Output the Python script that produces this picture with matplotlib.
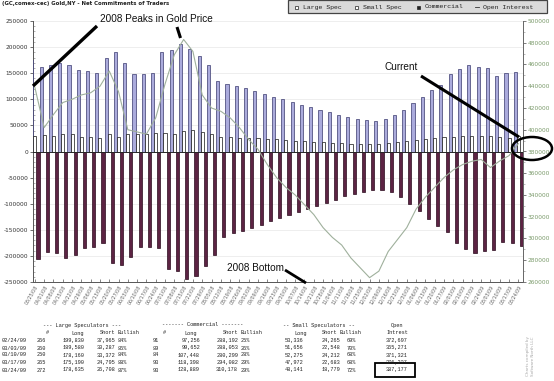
import matplotlib
matplotlib.use("Agg")
import matplotlib.pyplot as plt
import numpy as np
from matplotlib.patches import Rectangle, Ellipse
from matplotlib.lines import Line2D
from matplotlib.ticker import MultipleLocator, FormatStrFormatter

# ---------------- data ----------------
dates = ["03/25/08", "04/01/08", "04/08/08", "04/15/08", "04/22/08", "04/29/08",
         "05/06/08", "05/13/08", "05/20/08", "05/27/08", "06/03/08", "06/10/08",
         "06/17/08", "06/24/08", "07/01/08", "07/08/08", "07/15/08", "07/22/08",
         "07/29/08", "08/05/08", "08/12/08", "08/19/08", "08/26/08", "09/02/08",
         "09/09/08", "09/16/08", "09/23/08", "09/30/08", "10/07/08", "10/14/08",
         "10/21/08", "10/28/08", "11/04/08", "11/11/08", "11/18/08", "11/25/08",
         "12/02/08", "12/09/08", "12/16/08", "12/23/08", "12/30/08", "01/06/09",
         "01/13/09", "01/20/09", "01/27/09", "02/03/09", "02/10/09", "02/17/09",
         "02/24/09", "03/03/09", "03/10/09", "03/17/09", "03/24/09"]

large_spec = [176000, 161000, 165000, 170000, 166000, 157000, 155000, 151000, 180000,
              190000, 169000, 149000, 149000, 150000, 190000, 195000, 205000, 197000,
              182000, 165000, 135000, 130000, 126000, 122000, 116000, 110000, 105000,
              100000, 95000, 90000, 85000, 80000, 75000, 70000, 66000, 62000, 60000,
              58000, 62000, 70000, 80000, 92000, 105000, 118000, 128000, 148000, 158000,
              165000, 161865, 159293, 144788, 150395, 151927]

small_spec = [30000, 32000, 29000, 34000, 33000, 27000, 27000, 25000, 34000, 27000,
              33000, 33000, 33000, 35000, 35000, 34000, 40000, 42000, 38000, 33000,
              28000, 27000, 26000, 25000, 25000, 24000, 23000, 22000, 21000, 20000,
              19000, 18000, 17000, 16000, 15000, 15000, 14000, 15000, 16000, 18000,
              20000, 22000, 24000, 25000, 27000, 28000, 29000, 30000, 29071, 29108,
              28063, 25289, 29362]

commercial = [-206000, -193000, -194000, -204000, -199000, -184000, -182000, -176000,
              -214000, -217000, -202000, -182000, -182000, -185000, -225000, -229000,
              -245000, -239000, -220000, -198000, -163000, -157000, -152000, -147000,
              -141000, -134000, -128000, -122000, -116000, -110000, -104000, -98000,
              -92000, -86000, -81000, -77000, -74000, -73000, -78000, -88000, -100000,
              -114000, -129000, -143000, -155000, -176000, -187000, -195000, -190936,
              -188401, -172851, -175684, -181289]

open_interest = [439000, 402000, 414000, 425000, 428000, 432000, 434000, 440000, 454000,
                 435000, 400000, 398000, 396000, 411000, 442000, 469000, 483000, 472000,
                 432000, 420000, 417000, 411000, 402000, 391000, 382000, 368000, 356000,
                 347000, 340000, 331000, 322000, 310000, 301000, 294000, 282000, 273000,
                 264000, 270000, 288000, 299000, 310000, 327000, 338000, 347000, 356000,
                 363000, 368000, 371000, 372697, 365271, 371321, 376237, 387177]

# table values
tbl_dates = ["02/24/09", "03/03/09", "03/10/09", "03/17/09", "03/24/09"]
ls_num = ["266", "260", "250", "265", "272"]
ls_long = ["199,830", "189,580", "178,160", "175,190", "178,635"]
ls_short = ["37,965", "30,287", "33,372", "24,795", "26,708"]
ls_bull = ["84%", "86%", "84%", "88%", "87%"]
cm_num = ["91", "89", "84", "93", "93"]
cm_long = ["97,256", "99,652", "107,448", "118,398", "128,889"]
cm_short = ["288,192", "288,053", "280,299", "294,082", "310,178"]
cm_bull = ["25%", "26%", "28%", "29%", "29%"]
ss_long = ["53,336", "51,656", "52,275", "47,972", "48,141"]
ss_short = ["24,265", "22,548", "24,212", "22,683", "18,779"]
ss_bull = ["69%", "70%", "68%", "68%", "72%"]
oi_tbl = ["372,697", "365,271", "371,321", "376,237", "387,177"]

# ---------------- figure ----------------
W, H, DPI = 554, 381, 100
fig = plt.figure(figsize=(W / DPI, H / DPI), dpi=DPI)
fig.patch.set_facecolor("white")


def fx(x):
    return x / W


def fy(y):
    return 1 - y / H


L, R, T, B = 33, 523, 21, 282
ax = fig.add_axes([fx(L), fy(B), (R - L) / W, (B - T) / H])
ax2 = ax.twinx()

n = len(dates)
x = np.arange(n)
bw = 1 / 3
LAV, LAV_E = "#ababdc", "#3a3a6e"
MAR, MAR_E = "#5c2343", "#2a0a1c"

ax.bar(x, large_spec, width=bw, align="edge", color=LAV, edgecolor=LAV_E, linewidth=0.5, zorder=3)
ax.bar(x + bw, small_spec, width=bw, align="edge", color="white", edgecolor="#111111", linewidth=0.5, zorder=3)
ax.bar(x + 2 * bw, commercial, width=bw, align="edge", color=MAR, edgecolor=MAR_E, linewidth=0.5, zorder=3)
ax.axhline(0, color="#222222", lw=0.6, zorder=4)

ax.set_xlim(0.3, n)
ax.set_ylim(-250000, 250000)
ax.set_yticks(np.arange(-250000, 250001, 50000))
ax.yaxis.set_major_formatter(FormatStrFormatter("%d"))
ax.yaxis.set_minor_locator(MultipleLocator(10000))
ax.yaxis.grid(True, which="major", color="#ebebeb", lw=0.6)
ax.set_axisbelow(True)
ax.tick_params(axis="y", which="major", direction="out", length=2.2, width=0.6,
               color="#555555", labelsize=4.2, labelcolor="#333333", pad=1.2)
ax.tick_params(axis="y", which="minor", direction="in", length=1.5, width=0.4, color="#777777")

ax.set_xticks(x + 0.5)
ax.set_xticklabels(dates, rotation=60, ha="right", rotation_mode="anchor",
                   fontsize=3.4, color="#666666")
ax.tick_params(axis="x", direction="in", length=2.5, width=0.5, color="#555555", pad=1.5)

for s in ["top", "right"]:
    ax.spines[s].set_visible(False)
for s in ["left", "bottom"]:
    ax.spines[s].set_color("#555555")
    ax.spines[s].set_linewidth(0.7)

ax2.plot(x + 0.5, open_interest, color="#9fb09c", lw=0.8, zorder=5)
ax2.set_ylim(260000, 500000)
ax2.set_yticks(np.arange(260000, 500001, 20000))
ax2.yaxis.set_major_formatter(FormatStrFormatter("%d"))
ax2.yaxis.set_minor_locator(MultipleLocator(10000))
ax2.tick_params(axis="y", which="major", direction="out", length=2.2, width=0.6,
                color="#666666", labelsize=4.2, labelcolor="#7a9a6a", pad=1.0)
ax2.tick_params(axis="y", which="minor", direction="out", length=1.2, width=0.4, color="#888888")
for s in ["top", "left", "bottom"]:
    ax2.spines[s].set_visible(False)
ax2.spines["right"].set_color("#666666")
ax2.spines["right"].set_linewidth(0.7)
ax2.patch.set_visible(False)

renderer = fig.canvas.get_renderer()


def fit(t, width_px):
    w = t.get_window_extent(renderer=renderer).width
    if w > 0:
        t.set_fontsize(t.get_fontsize() * width_px / w)
    return t.get_fontsize()


# title
t = fig.text(fx(2), fy(4), "(GC,comex-cec) Gold,NY - Net Commitments of Traders",
             fontsize=4.5, weight="bold", color="#222222", va="center", ha="left",
             family="DejaVu Sans")
fit(t, 165)

# legend box
fig.add_artist(Rectangle((fx(288), fy(13)), 259 / W, 13 / H, transform=fig.transFigure,
                         facecolor="#dadada", edgecolor="#444444", lw=0.9))
leg_items = [(295, "Large Spec", "sq_open"), (355, "Small Spec", "sq_open"),
             (417, "Commercial", "sq_fill"), (475, "Open Interest", "dash")]
lt = fig.text(fx(300), fy(7), "Large Spec", fontsize=4, family="Liberation Mono",
              color="#222222", va="center", ha="left")
lfs = fit(lt, 38)
lt.remove()
for xp, lab, kind in leg_items:
    if kind == "sq_open":
        fig.add_artist(Rectangle((fx(xp), fy(8.5)), 3 / W, 3 / H, transform=fig.transFigure,
                                 facecolor="white", edgecolor="#222222", lw=0.5))
    elif kind == "sq_fill":
        fig.add_artist(Rectangle((fx(xp), fy(8.5)), 3 / W, 3 / H, transform=fig.transFigure,
                                 facecolor="#222222", edgecolor="#222222", lw=0.5))
    else:
        fig.add_artist(Line2D([fx(xp), fx(xp + 4)], [fy(7), fy(7)], transform=fig.transFigure,
                              color="#333333", lw=0.6))
    fig.text(fx(xp + 8), fy(7), lab, fontsize=lfs, family="Liberation Mono",
             color="#222222", va="center", ha="left")

# annotations
AF = "Liberation Sans"
ta = fig.text(fx(156), fy(19), "2008 Peaks in Gold Price", fontsize=7, family=AF,
              color="#111111", ha="center", va="center")
afs = fit(ta, 112)
fig.text(fx(401), fy(67), "Current", fontsize=afs, family=AF, color="#111111",
         ha="center", va="center")
fig.text(fx(255.5), fy(268), "2008 Bottom", fontsize=afs, family=AF, color="#111111",
         ha="center", va="center")


def seg(x1, y1, x2, y2, lw=2.4):
    fig.add_artist(Line2D([fx(x1), fx(x2)], [fy(y1), fy(y2)], transform=fig.transFigure,
                          color="black", lw=lw, solid_capstyle="butt"))


seg(97, 26, 33, 86)
seg(177, 27, 180.5, 38, lw=2.2)
seg(421, 76, 519, 137, lw=2.2)
seg(285, 270, 306, 283, lw=2.0)
fig.add_artist(Ellipse((fx(532), fy(148.5)), 40 / W, 23 / H, transform=fig.transFigure,
                       fill=False, edgecolor="black", lw=1.8))

# table
MF = "Liberation Mono"
tcol = "#222222"
th = fig.text(fx(43), fy(325), "--- Large Speculators ---", fontsize=4, family=MF,
              color=tcol, ha="left", va="center")
mfs = fit(th, 77)


def tx(xp, yp, s, ha="left"):
    fig.text(fx(xp), fy(yp), s, fontsize=mfs, family=MF, color=tcol, ha=ha, va="center")


tx(162, 325, "------- Commercial -------")
tx(283, 325, "-- Small Speculators --")
tx(403, 325, "Open", ha="right")
hy = 333
tx(47, hy, "#", ha="center")
tx(84, hy, "Long", ha="right")
tx(115, hy, "Short", ha="right")
tx(117.5, hy, "Bullish")
tx(164, hy, "#", ha="center")
tx(197, hy, "Long", ha="right")
tx(238, hy, "Short", ha="right")
tx(240.5, hy, "Bullish")
tx(307, hy, "Long", ha="right")
tx(337, hy, "Short", ha="right")
tx(339.5, hy, "Bullish")
tx(408, hy, "Intrest", ha="right")

rows_y = [340.5, 348, 355, 362.5, 370]
for i, yy in enumerate(rows_y):
    tx(2, yy, tbl_dates[i])
    tx(37, yy, ls_num[i])
    tx(85, yy, ls_long[i], ha="right")
    tx(115, yy, ls_short[i], ha="right")
    tx(117.5, yy, ls_bull[i])
    tx(153, yy, cm_num[i])
    tx(200, yy, cm_long[i], ha="right")
    tx(238, yy, cm_short[i], ha="right")
    tx(240.5, yy, cm_bull[i])
    tx(303, yy, ss_long[i], ha="right")
    tx(340, yy, ss_short[i], ha="right")
    tx(347, yy, ss_bull[i])
    tx(408, yy, oi_tbl[i], ha="right")

fig.add_artist(Rectangle((fx(375), fy(377)), 40 / W, 14 / H, transform=fig.transFigure,
                         fill=False, edgecolor="black", lw=1.3))

# watermark
fig.text(fx(527.5), fy(356), "Charts compiled by", rotation=90, fontsize=3.0,
         color="#a8a8a8", ha="center", va="center")
fig.text(fx(532.5), fy(356), "Software North LLC", rotation=90, fontsize=3.0,
         color="#a8a8a8", ha="center", va="center")

fig.savefig("out.png", dpi=DPI, facecolor="white")
